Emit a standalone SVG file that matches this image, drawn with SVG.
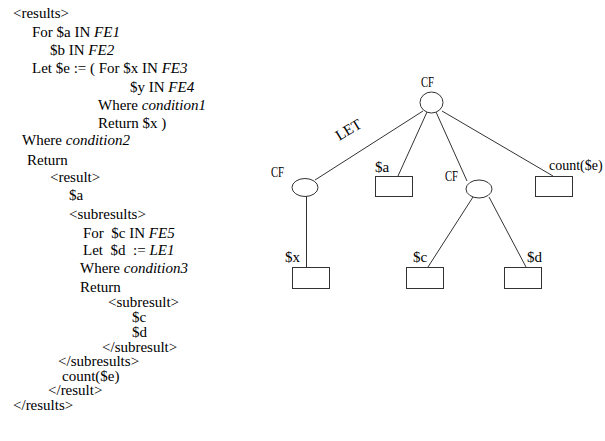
<svg xmlns="http://www.w3.org/2000/svg" width="605" height="441" viewBox="0 0 605 441">
  <style>
    .code { font-family: "Liberation Serif", "Times New Roman", serif; font-size: 15px; fill: #000; white-space: pre; }
    .it { font-style: italic; }
    .lbl { font-family: "Liberation Serif", "Times New Roman", serif; font-size: 15px; fill: #000; }
    .shape { fill: #fff; stroke: #333; stroke-width: 1; }
    .edge { stroke: #333; stroke-width: 1; fill: none; }
  </style>
  <rect x="0" y="0" width="605" height="441" fill="#fff"/>

  <!-- query listing -->
  <g id="query">
    <text class="code" x="13" y="18">&lt;results&gt;</text>
    <text class="code" x="32" y="37">For $a IN <tspan class="it">FE1</tspan></text>
    <text class="code" x="50" y="55">$b IN <tspan class="it">FE2</tspan></text>
    <text class="code" x="32" y="73">Let $e := ( For $x IN <tspan class="it">FE3</tspan></text>
    <text class="code" x="130" y="92">$y IN <tspan class="it">FE4</tspan></text>
    <text class="code" x="98" y="110">Where <tspan class="it">condition1</tspan></text>
    <text class="code" x="98" y="128">Return $x )</text>
    <text class="code" x="22" y="145">Where <tspan class="it">condition2</tspan></text>
    <text class="code" x="27" y="165">Return</text>
    <text class="code" x="50" y="182">&lt;result&gt;</text>
    <text class="code" x="69" y="200">$a</text>
    <text class="code" x="69" y="219">&lt;subresults&gt;</text>
    <text class="code" x="83" y="238" xml:space="preserve">For  $c IN <tspan class="it">FE5</tspan></text>
    <text class="code" x="83" y="255" xml:space="preserve">Let  $d  := <tspan class="it">LE1</tspan></text>
    <text class="code" x="80" y="273">Where <tspan class="it">condition3</tspan></text>
    <text class="code" x="80" y="292">Return</text>
    <text class="code" x="108" y="307">&lt;subresult&gt;</text>
    <text class="code" x="132" y="322">$c</text>
    <text class="code" x="132" y="337">$d</text>
    <text class="code" x="102" y="352">&lt;/subresult&gt;</text>
    <text class="code" x="58" y="366">&lt;/subresults&gt;</text>
    <text class="code" x="62" y="381">count($e)</text>
    <text class="code" x="48" y="395">&lt;/result&gt;</text>
    <text class="code" x="13" y="410">&lt;/results&gt;</text>
  </g>

  <!-- tree edges -->
  <g id="edges">
    <line class="edge" x1="315" y1="180" x2="423" y2="111"/>
    <line class="edge" x1="398" y1="176" x2="427" y2="112"/>
    <line class="edge" x1="436" y1="112" x2="467" y2="181"/>
    <line class="edge" x1="442" y1="111" x2="553" y2="176"/>
    <line class="edge" x1="306.5" y1="196" x2="306.5" y2="267" stroke="#000"/>
    <line class="edge" x1="473" y1="197" x2="428" y2="267"/>
    <line class="edge" x1="489" y1="197" x2="526" y2="267"/>
    <text class="lbl" x="351" y="134" text-anchor="middle" transform="rotate(-31 351 134)">LET</text>
  </g>

  <!-- root constructor -->
  <g id="cf-root">
    <ellipse class="shape" cx="431.5" cy="102.5" rx="11.5" ry="10.5"/>
    <text class="lbl" x="421" y="87" textLength="13" lengthAdjust="spacingAndGlyphs">CF</text>
  </g>

  <!-- LET constructor -->
  <g id="cf-let">
    <ellipse class="shape" cx="305" cy="187.5" rx="13" ry="9"/>
    <text class="lbl" x="271" y="177" textLength="13" lengthAdjust="spacingAndGlyphs">CF</text>
  </g>

  <g id="leaf-a">
    <rect class="shape" x="375.5" y="176.5" width="37" height="20"/>
    <text class="lbl" x="375" y="172">$a</text>
  </g>

  <!-- nested constructor -->
  <g id="cf-sub">
    <ellipse class="shape" cx="479" cy="189" rx="13" ry="9"/>
    <text class="lbl" x="445" y="181" textLength="13" lengthAdjust="spacingAndGlyphs">CF</text>
  </g>

  <g id="leaf-count">
    <rect class="shape" x="535.5" y="176.5" width="37" height="20"/>
    <text class="lbl" x="549" y="170" style="font-size:14px">count($e)</text>
  </g>

  <g id="leaf-x">
    <rect class="shape" x="292.5" y="267.5" width="37" height="21"/>
    <text class="lbl" x="285" y="262">$x</text>
  </g>

  <g id="leaf-c">
    <rect class="shape" x="406.5" y="267.5" width="37" height="21"/>
    <text class="lbl" x="413" y="262">$c</text>
  </g>

  <g id="leaf-d">
    <rect class="shape" x="504.5" y="267.5" width="37" height="21"/>
    <text class="lbl" x="527" y="262">$d</text>
  </g>
</svg>
